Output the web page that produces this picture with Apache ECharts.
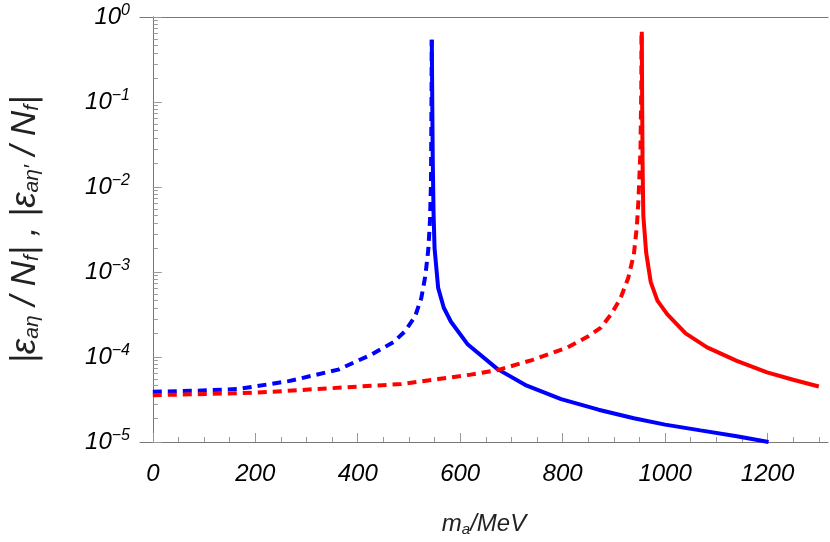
<!DOCTYPE html>
<html><head><meta charset="utf-8">
<script src="https://cdn.jsdelivr.net/npm/echarts@6/dist/echarts.min.js"></script>
<style>body{margin:0}#c{width:830px;height:542px}</style></head>
<body><div id="c"></div>
<script>
const blueDashed = [[0,3.9e-5],[80,4.0e-5],[167,4.2e-5],[265,5.2e-5],[362,7.1e-5],[427,1.07e-4],[470,1.5e-4],[492,2e-4],[512,3e-4],[524,4.9e-4],[532,9e-4],[538,1.9e-3],[541,4e-3],[543,0.011],[544,0.1],[544.5,0.54]];
const blueSolid = [[544.6,0.54],[545.5,0.1],[546.5,0.02],[548,5e-3],[550,1.9e-3],[557,6.5e-4],[568,3.8e-4],[582,2.6e-4],[615,1.4e-4],[673,7.2e-5],[730,4.6e-5],[797,3.2e-5],[870,2.4e-5],[939,1.9e-5],[1000,1.6e-5],[1069,1.37e-5],[1140,1.17e-5],[1202,1e-5]];
const redDashed = [[0,3.55e-5],[200,3.8e-5],[350,4.3e-5],[485,4.8e-5],[557,5.5e-5],[620,6.2e-5],[673,7e-5],[740,9.2e-5],[810,1.3e-4],[850,1.75e-4],[874,2.2e-4],[895,3.2e-4],[913,4.9e-4],[928,8.5e-4],[939,1.6e-3],[945,3.5e-3],[948,7e-3],[952,0.028],[953.5,0.15],[954,0.67]];
const redSolid = [[954.5,0.67],[955.2,0.1],[956,0.02],[957.5,4.6e-3],[963,1.7e-3],[972,7.6e-4],[985,4.6e-4],[1004,3.2e-4],[1040,1.9e-4],[1082,1.3e-4],[1140,9e-5],[1199,6.6e-5],[1250,5.4e-5],[1300,4.5e-5]];
const xMajor = [0,200,400,600,800,1000,1200];
const xMinor = [0,50,100,150,200,250,300,350,400,450,500,550,600,650,700,750,800,850,900,950,1000,1050,1100,1150,1200,1250,1300];
const yTickExps = [0,-1,-2,-3,-4,-5];

const chart = echarts.init(document.getElementById('c'));
const F = 'Liberation Sans';
const X0 = -25, X1 = 1318;
chart.setOption({
  animation:false,
  grid:{left:137,right:2,top:17,bottom:97},
  xAxis:[{type:'value',min:X0,max:X1,
    axisLine:{lineStyle:{color:'#777'}},
    axisTick:{inside:true,length:9,lineStyle:{color:'#999'},customValues:xMajor},
    axisLabel:{customValues:xMajor,formatter:v=>String(v),fontFamily:F,fontStyle:'italic',fontSize:24,color:'#000',margin:20},
    splitLine:{show:false},
    name:'{i|m}{s|a}{i|/MeV}',nameLocation:'middle',nameGap:70,
    nameTextStyle:{rich:{i:{fontFamily:F,fontStyle:'italic',fontSize:24,color:'#222'},s:{fontFamily:F,fontStyle:'italic',fontSize:15,color:'#222',verticalAlign:'bottom',padding:[10,0,0,0]}}}
  },{type:'value',position:'bottom',min:X0,max:X1,axisLine:{show:false},
    axisTick:{inside:true,length:5,lineStyle:{color:'#999'},customValues:xMinor},axisLabel:{show:false},splitLine:{show:false}},
  {type:'value',position:'top',min:X0,max:X1,axisLine:{lineStyle:{color:'#777'}},axisTick:{show:false},axisLabel:{show:false},splitLine:{show:false}}],
  yAxis:[{type:'log',min:1e-5,max:1,logBase:10,
    axisLine:{lineStyle:{color:'#999'}},
    axisTick:{inside:true,length:9,lineStyle:{color:'#999'}},
    minorTick:{show:true,splitNumber:10,length:5,lineStyle:{color:'#999'}},
    splitLine:{show:false},
    axisLabel:{fontFamily:F,fontSize:24,color:'#000',margin:10,
      formatter:v=>{const e=Math.round(Math.log10(v));return yTickExps.includes(e)?'{b|10}{e|'+(e<0?'−'+(-e):e)+'}':'';},
      rich:{b:{fontFamily:F,fontStyle:'italic',fontSize:24,color:'#000'},e:{fontFamily:F,fontStyle:'italic',fontSize:16,color:'#000',verticalAlign:'top',padding:[0,0,12,0]}}},
    name:'{t||ε}{s|aη}{t| / N}{s|f}{t|| , |ε}{s|aη′}{t| / N}{s|f}{t||}',nameLocation:'middle',nameGap:97,nameRotate:90,
    nameTextStyle:{rich:{t:{fontFamily:F,fontStyle:'italic',fontSize:35,color:'#222'},s:{fontFamily:F,fontStyle:'italic',fontSize:21,color:'#222',verticalAlign:'bottom',padding:[14,0,0,0]}}}
  },{type:'log',position:'right',min:1e-5,max:1,axisLine:{show:true,lineStyle:{color:'#777'}},axisTick:{show:false},axisLabel:{show:false},splitLine:{show:false}}],
  series:[
    {type:'line',data:blueDashed,showSymbol:false,lineStyle:{color:'#0000ff',width:4,type:[9,6]}},
    {type:'line',data:blueSolid,showSymbol:false,lineStyle:{color:'#0000ff',width:4}},
    {type:'line',data:redDashed,showSymbol:false,lineStyle:{color:'#ff0000',width:4,type:[9,6]}},
    {type:'line',data:redSolid,showSymbol:false,lineStyle:{color:'#ff0000',width:4}}
  ]
});
</script></body></html>
